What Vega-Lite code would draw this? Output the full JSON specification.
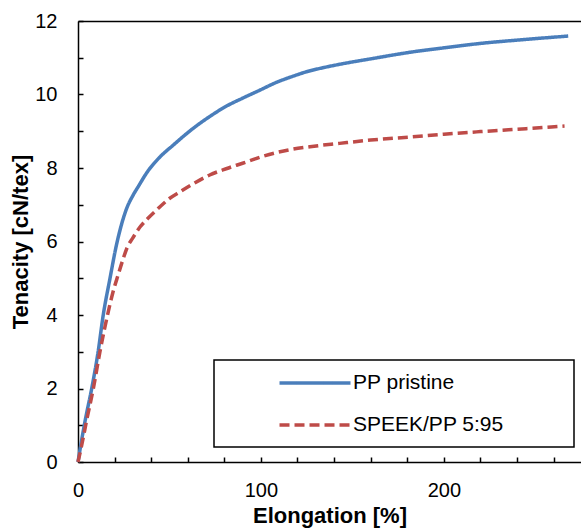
{
  "$schema": "https://vega.github.io/schema/vega-lite/v6.json",
  "width": 503,
  "height": 441,
  "autosize": {"type": "none"},
  "padding": {"left": 78, "top": 21, "right": 0, "bottom": 66},
  "background": "white",
  "config": {
    "view": {"stroke": null},
    "font": "Liberation Sans",
    "axis": {
      "domainColor": "black", "domainWidth": 1.5,
      "tickColor": "black", "tickWidth": 1.5, "grid": false,
      "labelFont": "Liberation Sans", "labelFontSize": 20, "labelColor": "black",
      "titleFont": "Liberation Sans", "titleFontSize": 22, "titleFontWeight": "bold", "titleColor": "black"
    }
  },
  "datasets": {
    "curves": [
      {"series": "PP pristine", "elongation": 0, "tenacity": 0},
      {"series": "PP pristine", "elongation": 2, "tenacity": 0.6},
      {"series": "PP pristine", "elongation": 4, "tenacity": 1.15},
      {"series": "PP pristine", "elongation": 7.5, "tenacity": 2.0},
      {"series": "PP pristine", "elongation": 11, "tenacity": 3.0},
      {"series": "PP pristine", "elongation": 13.8, "tenacity": 4.0},
      {"series": "PP pristine", "elongation": 17.5, "tenacity": 5.0},
      {"series": "PP pristine", "elongation": 21, "tenacity": 5.9},
      {"series": "PP pristine", "elongation": 24, "tenacity": 6.5},
      {"series": "PP pristine", "elongation": 26.6, "tenacity": 6.9},
      {"series": "PP pristine", "elongation": 30, "tenacity": 7.25},
      {"series": "PP pristine", "elongation": 33, "tenacity": 7.5},
      {"series": "PP pristine", "elongation": 38, "tenacity": 7.9},
      {"series": "PP pristine", "elongation": 44.8, "tenacity": 8.3},
      {"series": "PP pristine", "elongation": 52, "tenacity": 8.62},
      {"series": "PP pristine", "elongation": 63, "tenacity": 9.08},
      {"series": "PP pristine", "elongation": 72, "tenacity": 9.4},
      {"series": "PP pristine", "elongation": 81, "tenacity": 9.68},
      {"series": "PP pristine", "elongation": 90, "tenacity": 9.9},
      {"series": "PP pristine", "elongation": 99.5, "tenacity": 10.12},
      {"series": "PP pristine", "elongation": 108, "tenacity": 10.32},
      {"series": "PP pristine", "elongation": 117.7, "tenacity": 10.5},
      {"series": "PP pristine", "elongation": 125, "tenacity": 10.62},
      {"series": "PP pristine", "elongation": 135, "tenacity": 10.74},
      {"series": "PP pristine", "elongation": 145, "tenacity": 10.84},
      {"series": "PP pristine", "elongation": 160, "tenacity": 10.97},
      {"series": "PP pristine", "elongation": 183, "tenacity": 11.16},
      {"series": "PP pristine", "elongation": 200, "tenacity": 11.27},
      {"series": "PP pristine", "elongation": 220, "tenacity": 11.39},
      {"series": "PP pristine", "elongation": 245, "tenacity": 11.5},
      {"series": "PP pristine", "elongation": 268, "tenacity": 11.59},
      {"series": "SPEEK/PP 5:95", "elongation": 0, "tenacity": 0},
      {"series": "SPEEK/PP 5:95", "elongation": 2, "tenacity": 0.45},
      {"series": "SPEEK/PP 5:95", "elongation": 5, "tenacity": 1.2},
      {"series": "SPEEK/PP 5:95", "elongation": 8.4, "tenacity": 2.0},
      {"series": "SPEEK/PP 5:95", "elongation": 12, "tenacity": 3.0},
      {"series": "SPEEK/PP 5:95", "elongation": 16.6, "tenacity": 4.1},
      {"series": "SPEEK/PP 5:95", "elongation": 19, "tenacity": 4.6},
      {"series": "SPEEK/PP 5:95", "elongation": 22, "tenacity": 5.1},
      {"series": "SPEEK/PP 5:95", "elongation": 24.5, "tenacity": 5.5},
      {"series": "SPEEK/PP 5:95", "elongation": 27, "tenacity": 5.85},
      {"series": "SPEEK/PP 5:95", "elongation": 30, "tenacity": 6.1},
      {"series": "SPEEK/PP 5:95", "elongation": 34, "tenacity": 6.4},
      {"series": "SPEEK/PP 5:95", "elongation": 38, "tenacity": 6.62},
      {"series": "SPEEK/PP 5:95", "elongation": 43, "tenacity": 6.86},
      {"series": "SPEEK/PP 5:95", "elongation": 50, "tenacity": 7.17},
      {"series": "SPEEK/PP 5:95", "elongation": 56, "tenacity": 7.36},
      {"series": "SPEEK/PP 5:95", "elongation": 64, "tenacity": 7.6},
      {"series": "SPEEK/PP 5:95", "elongation": 72, "tenacity": 7.81},
      {"series": "SPEEK/PP 5:95", "elongation": 81, "tenacity": 7.98},
      {"series": "SPEEK/PP 5:95", "elongation": 90, "tenacity": 8.13},
      {"series": "SPEEK/PP 5:95", "elongation": 100, "tenacity": 8.3},
      {"series": "SPEEK/PP 5:95", "elongation": 108.6, "tenacity": 8.42},
      {"series": "SPEEK/PP 5:95", "elongation": 117, "tenacity": 8.51},
      {"series": "SPEEK/PP 5:95", "elongation": 126.8, "tenacity": 8.58},
      {"series": "SPEEK/PP 5:95", "elongation": 143, "tenacity": 8.67},
      {"series": "SPEEK/PP 5:95", "elongation": 160, "tenacity": 8.76},
      {"series": "SPEEK/PP 5:95", "elongation": 183, "tenacity": 8.85},
      {"series": "SPEEK/PP 5:95", "elongation": 200, "tenacity": 8.92},
      {"series": "SPEEK/PP 5:95", "elongation": 220, "tenacity": 8.99},
      {"series": "SPEEK/PP 5:95", "elongation": 245, "tenacity": 9.07},
      {"series": "SPEEK/PP 5:95", "elongation": 266, "tenacity": 9.14}
    ],
    "frame": [{"elongation": 0}]
  },
  "layer": [
    {
      "data": {"name": "curves"},
      "mark": {"type": "line", "strokeWidth": 3.5, "interpolate": "monotone"},
      "encoding": {
        "x": {
          "field": "elongation", "type": "quantitative",
          "scale": {"domain": [0, 275], "nice": false},
          "axis": {
            "title": "Elongation [%]",
            "values": [0, 20, 40, 60, 80, 100, 120, 140, 160, 180, 200, 220, 240, 260],
            "labelExpr": "datum.value % 100 == 0 ? datum.label : ''",
            "labelFlush": false,
            "tickSize": -5, "labelPadding": 23,
            "titleBaseline": "alphabetic", "titleY": 60
          }
        },
        "y": {
          "field": "tenacity", "type": "quantitative",
          "scale": {"domain": [0, 12], "nice": false},
          "axis": {
            "title": "Tenacity [cN/tex]",
            "values": [0, 1, 2, 3, 4, 5, 6, 7, 8, 9, 10, 11, 12],
            "labelExpr": "datum.value % 2 == 0 ? datum.label : ''",
            "labelFlush": false,
            "tickSize": -5, "labelPadding": 26,
            "titleBaseline": "alphabetic", "titleX": -51
          }
        },
        "color": {
          "field": "series", "type": "nominal",
          "scale": {"domain": ["PP pristine", "SPEEK/PP 5:95"], "range": ["#4a7ebb", "#be4b48"]},
          "legend": {
            "orient": "none", "legendX": 136, "legendY": 339,
            "title": null,
            "strokeColor": "black", "fillColor": "white",
            "padding": 12,
            "symbolType": "M-4,0H4", "symbolSize": 315, "symbolStrokeWidth": 3.5,
            "symbolOffset": 78, "labelOffset": 27,
            "labelFont": "Liberation Sans", "labelFontSize": 21, "labelColor": "black",
            "labelLimit": 400,
            "rowPadding": 21,
            "encode": {
              "legend": {"update": {"strokeWidth": {"value": 1.5}}},
              "labels": {"update": {"text": {"signal": "datum.label + '\u00a0\u00a0\u00a0\u00a0\u00a0\u00a0\u00a0\u00a0\u00a0\u00a0\u200b'"}}}
            }
          }
        },
        "strokeDash": {
          "field": "series", "type": "nominal",
          "scale": {"domain": ["PP pristine", "SPEEK/PP 5:95"], "range": [[1, 0], [10, 5]]}
        }
      }
    },
    {
      "data": {"name": "frame"},
      "mark": {"type": "rule", "opacity": 0},
      "encoding": {
        "x": {
          "field": "elongation", "type": "quantitative",
          "axis": {"orient": "top", "labels": false, "ticks": false, "title": null}
        }
      }
    }
  ],
  "resolve": {"axis": {"x": "independent"}}
}
